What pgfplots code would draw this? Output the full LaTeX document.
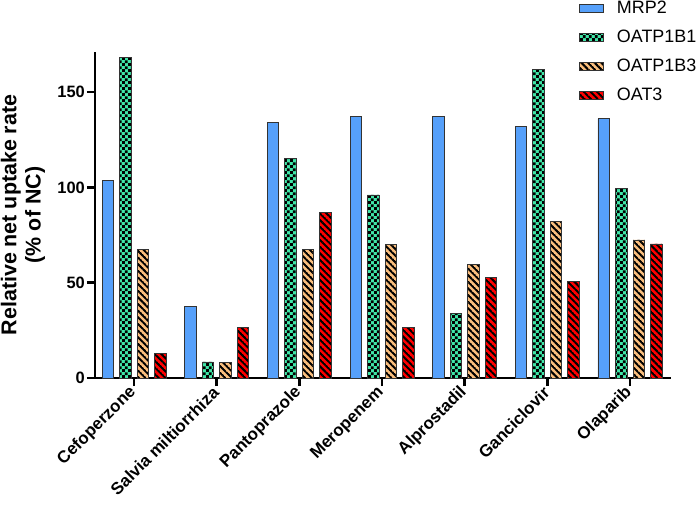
\documentclass[border=0pt]{standalone}
\usepackage{pgfplots}
\pgfplotsset{compat=1.18}
\usepackage{fontspec}
\setmainfont{Liberation Sans}
\usetikzlibrary{patterns.meta}

\definecolor{cMRP}{RGB}{86,160,250}
\definecolor{cOATA}{RGB}{64,230,168}
\definecolor{cOATB}{RGB}{250,190,125}
\definecolor{cOAT}{RGB}{255,0,0}

\tikzdeclarepattern{
  name=mylines,
  parameters={
      /pgf/pattern keys/size,
      /pgf/pattern keys/angle,
      /pgf/pattern keys/line width,
  },
  bounding box={
    (0,-0.5*\pgfkeysvalueof{/pgf/pattern keys/line width}) and
    (\pgfkeysvalueof{/pgf/pattern keys/size},
     0.5*\pgfkeysvalueof{/pgf/pattern keys/line width})},
  tile size={(\pgfkeysvalueof{/pgf/pattern keys/size},
              \pgfkeysvalueof{/pgf/pattern keys/size})},
  tile transformation={rotate=\pgfkeysvalueof{/pgf/pattern keys/angle}},
  defaults={
    size/.initial=5pt,
    angle/.initial=45,
    line width/.initial=.4pt,
  },
  code={
      \draw [line width=\pgfkeysvalueof{/pgf/pattern keys/line width}]
        (0,0) -- (\pgfkeysvalueof{/pgf/pattern keys/size},0);
  },
}

\tikzdeclarepattern{
  name=mychecker,
  type=uncolored,
  bounding box={(0,0) and (5.8bp,5.8bp)},
  tile size={(5.8bp,5.8bp)},
  code={
    \fill (0,0) rectangle (2.9bp,2.9bp);
    \fill (2.9bp,2.9bp) rectangle (5.8bp,5.8bp);
  },
}

\pgfplotstableread{
x MRP OATA OATB OAT
0 103.8 168   67.5 13
1 37.5  8.4   8.2  26.5
2 134.2 115.2 67.5 87
3 137.2 96    70   26.5
4 137.3 33.7  59.7 52.7
5 132.1 162   82   50.8
6 136.1 99.5  72.4 70.3
}\datatable

\begin{document}
\begin{tikzpicture}
\useasboundingbox (0,0) rectangle (699bp,505bp);
\begin{axis}[
  at={(95bp,127bp)}, anchor=south west,
  scale only axis,
  width=576bp, height=326bp,
  ybar=6bp, bar width=11.5bp,
  xmin=-0.472, xmax=6.496,
  ymin=0, ymax=171,
  axis x line*=bottom, axis y line*=left,
  axis line style={line width=2.5bp, -},
  tick align=outside,
  major tick length=8bp,
  tick style={line width=2.5bp, black},
  xtick={0,...,6},
  xticklabels={Cefoperzone, Salvia miltiorrhiza, Pantoprazole, Meropenem, Alprostadil, Ganciclovir, Olaparib},
  ytick={0,50,100,150},
  minor tick num=0,
  /pgf/number format/assume math mode=true,
  yticklabel style={font=\bfseries\fontsize{16.5}{18}\selectfont, inner sep=2bp},
  xticklabel style={font=\bfseries\fontsize{17}{18}\selectfont, rotate=45, anchor=east, inner sep=1bp},
  xticklabel shift=3bp,
  ylabel={Relative net uptake rate\\(\% of NC)},
  ylabel style={at={(axis description cs:-0.125,0.5)}, anchor=center,
    align=center, font=\bfseries\fontsize{21.5}{24.5}\selectfont},
  legend style={at={(axis description cs:0.840,1.16)}, anchor=north west,
    draw=none, fill=none, font=\fontsize{18}{20}\selectfont,
    row sep=13bp, inner sep=0pt,
    nodes={inner sep=1bp}},
  legend cell align=left,
  legend image code/.code={\draw[#1] (0bp,-4bp) rectangle (24bp,4bp);},
  legend style={/tikz/every odd column/.append style={column sep=12bp}},
  every axis plot/.append style={draw=black!80, line width=0.9bp},
  clip=false,
]
\addplot[fill=cMRP] table[x=x,y=MRP] {\datatable};
\addplot[fill=cOATA, postaction={pattern=mychecker}] table[x=x,y=OATA] {\datatable};
\addplot[fill=cOATB, postaction={pattern={mylines[size=4.7bp, angle=-45, line width=2bp]}}] table[x=x,y=OATB] {\datatable};
\addplot[fill=cOAT, postaction={pattern={mylines[size=5.7bp, angle=0, line width=2.2bp]}}] table[x=x,y=OAT] {\datatable};
\legend{MRP2, OATP1B1, OATP1B3, OAT3}
\end{axis}
\end{tikzpicture}
\end{document}
